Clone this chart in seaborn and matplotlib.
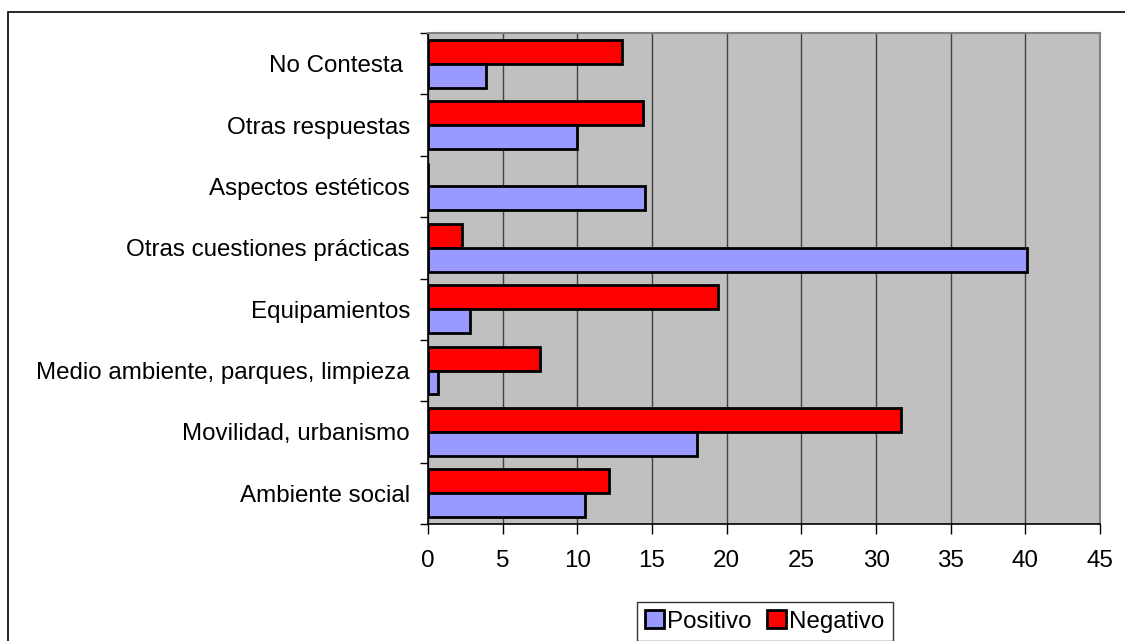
import matplotlib
matplotlib.use("Agg")
import matplotlib.pyplot as plt
import seaborn as sns
import pandas as pd
from matplotlib.patches import Patch, Rectangle

categories = ["No Contesta ", "Otras respuestas", "Aspectos estéticos",
              "Otras cuestiones prácticas", "Equipamientos",
              "Medio ambiente, parques, limpieza", "Movilidad, urbanismo",
              "Ambiente social"]
positivo = [3.9, 10.0, 14.5, 40.1, 2.8, 0.7, 18.0, 10.5]
negativo = [13.0, 14.4, 0.0, 2.3, 19.4, 7.5, 31.7, 12.1]
xticks = [0, 5, 10, 15, 20, 25, 30, 35, 40, 45]

sns.set_theme(style="white")
plt.rcParams['font.family'] = ['Liberation Sans', 'DejaVu Sans']
plt.rcParams['text.color'] = 'black'
plt.rcParams['xtick.color'] = 'black'
plt.rcParams['ytick.color'] = 'black'
plt.rcParams['axes.labelcolor'] = 'black'

FS = 17.4

df = pd.DataFrame({
    "cat": categories * 2,
    "val": negativo + positivo,
    "serie": ["Negativo"] * len(categories) + ["Positivo"] * len(categories),
})

colors = {"Positivo": "#9999FF", "Negativo": "#FF0000"}

fig = plt.figure(figsize=(11.25, 6.41), dpi=100)
ax = fig.add_axes([428/1125, 1-524/641, (1100-428)/1125, (524-33)/641])
ax.set_facecolor("#C0C0C0")

sns.barplot(data=df, y="cat", x="val", hue="serie", order=categories,
            hue_order=["Negativo", "Positivo"], palette=colors, orient="h",
            width=0.78, edgecolor="black", linewidth=2, ax=ax, legend=False,
            saturation=1, zorder=3)

ax.set_xlim(0, 45)
ax.set_ylim(7.5, -0.5)
ax.set_xticks(xticks)
ax.set_xticklabels([str(t) for t in xticks], fontsize=FS, color="black")
ax.set_yticks(range(len(categories)))
ax.set_yticklabels(categories, fontsize=FS, color="black")
ax.set_yticks([i - 0.5 for i in range(len(categories) + 1)], minor=True)
ax.tick_params(axis="y", which="major", length=0, pad=13)
ax.tick_params(axis="y", which="minor", length=6, width=1, color="black", left=True)
ax.tick_params(axis="x", which="major", length=7, width=1, color="black", bottom=True, pad=12)
ax.set_xlabel("")
ax.set_ylabel("")
ax.grid(axis="x", color="#404040", linewidth=1, zorder=1)
ax.set_axisbelow(True)
for s in ["left", "bottom"]:
    ax.spines[s].set_color("black")
    ax.spines[s].set_linewidth(1.2)
for s in ["top", "right"]:
    ax.spines[s].set_color("#808080")
    ax.spines[s].set_linewidth(1.5)

handles = [Patch(facecolor=colors["Positivo"], edgecolor="black", linewidth=2, label="Positivo"),
           Patch(facecolor=colors["Negativo"], edgecolor="black", linewidth=2, label="Negativo")]
leg = fig.legend(handles=handles, loc="upper left",
                 bbox_to_anchor=(637/1125, 1-602/641), ncol=2, fontsize=FS,
                 frameon=True, fancybox=False, shadow=False, handlelength=0.75,
                 handleheight=0.75, handletextpad=0.15, columnspacing=0.65,
                 borderpad=0.35, borderaxespad=0)
leg.get_frame().set_edgecolor("black")
leg.get_frame().set_linewidth(1)
for t in leg.get_texts():
    t.set_color("black")

fig.add_artist(Rectangle((8/1125, -0.5), 2.0, 0.5 + 1 - 12/641, fill=False,
                         edgecolor="black", linewidth=1.2, transform=fig.transFigure))

fig.savefig("out.png", dpi=100, facecolor="white")
